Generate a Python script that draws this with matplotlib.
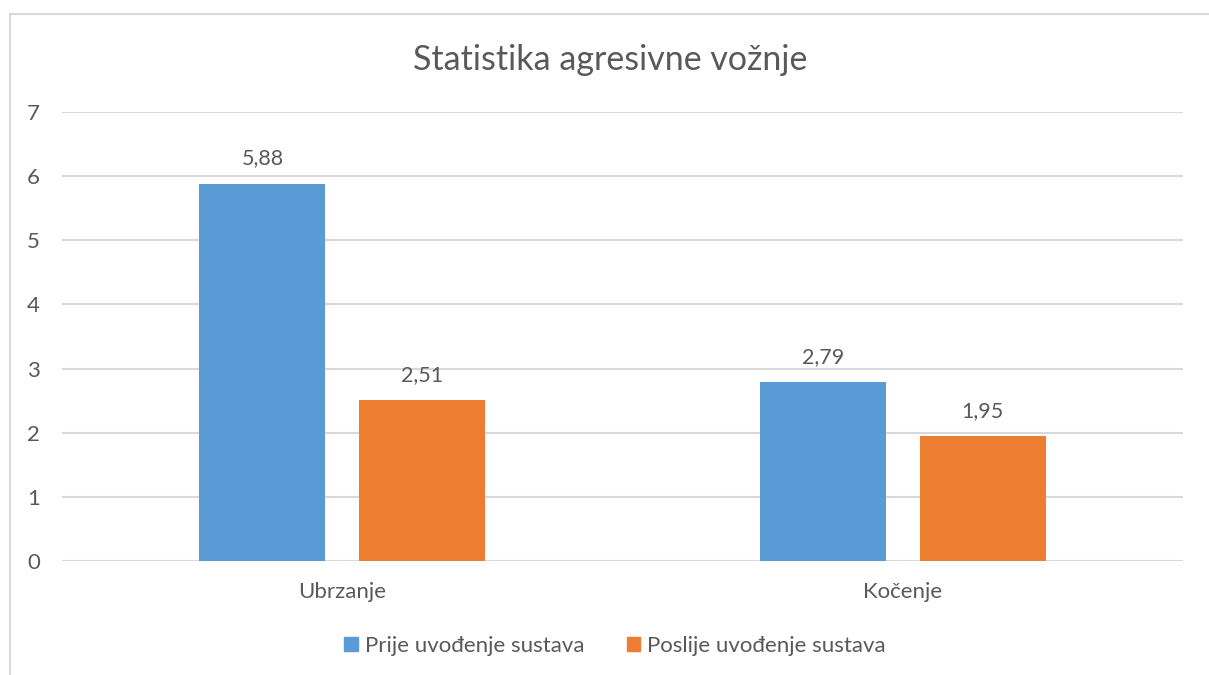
import matplotlib
matplotlib.use("Agg")
import matplotlib.pyplot as plt
from matplotlib.lines import Line2D
import numpy as np

categories = ["Ubrzanje", "Kočenje"]
series_names = ["Prije uvođenje sustava", "Poslije uvođenje sustava"]
prije = [5.88, 2.79]
poslije = [2.51, 1.95]
yticks = [0, 1, 2, 3, 4, 5, 6, 7]
title = "Statistika agresivne vožnje"

colors = ["#5B9BD5", "#ED7D31"]
text_color = "#595959"
grid_color = "#D9D9D9"

plt.rcParams['font.family'] = ['Lato', 'DejaVu Sans']

W, H = 1209, 675
fig = plt.figure(figsize=(W / 100, H / 100), dpi=100)
ax = fig.add_axes([62 / W, 1 - 561 / H, (1183 - 62) / W, (561 - 112) / H])

x = np.arange(len(categories))
bw = 0.225
off = 0.1425
for i, (vals, c, name) in enumerate(zip([prije, poslije], colors, series_names)):
    xs = x + (-off if i == 0 else off)
    bars = ax.bar(xs, vals, width=bw, color=c, label=name, zorder=3)
    for b, v in zip(bars, vals):
        ax.annotate(f"{v:.2f}".replace(".", ","), (b.get_x() + b.get_width() / 2, v),
                    xytext=(0, 11), textcoords="offset points", ha="center", va="bottom",
                    fontsize=15.5, color=text_color)

ax.set_xlim(-0.5, 1.5)
ax.set_ylim(0, 7)
ax.set_yticks(yticks)
ax.set_yticklabels([str(t) for t in yticks])
ax.set_xticks(x)
ax.set_xticklabels(categories)
ax.tick_params(axis='both', length=0, labelsize=16, colors=text_color)
ax.tick_params(axis='y', pad=16)
ax.tick_params(axis='x', pad=15)
ax.grid(axis='y', color=grid_color, linewidth=1.5, zorder=0)
for s in ax.spines.values():
    s.set_visible(False)

fig.text(610 / W, 1 - 60 / H, title, ha="center", va="center", fontsize=24.5, color=text_color)

handles = [plt.Rectangle((0, 0), 1, 1, color=c) for c in colors]
leg = fig.legend(handles, series_names, loc="center", bbox_to_anchor=(615 / W, 1 - 646 / H),
                 ncol=2, frameon=False, fontsize=16, handlelength=0.62, handleheight=0.62,
                 handletextpad=0.32, columnspacing=1.9, borderaxespad=0, borderpad=0)
for t in leg.get_texts():
    t.set_color(text_color)

# chart border (left and top visible)
fig.add_artist(Line2D([9.5 / W, 9.5 / W], [0, 1 - 13.5 / H], color=grid_color, linewidth=1.5))
fig.add_artist(Line2D([9.5 / W, 1], [1 - 13.5 / H, 1 - 13.5 / H], color=grid_color, linewidth=1.5))

fig.savefig("out.png", dpi=100)
